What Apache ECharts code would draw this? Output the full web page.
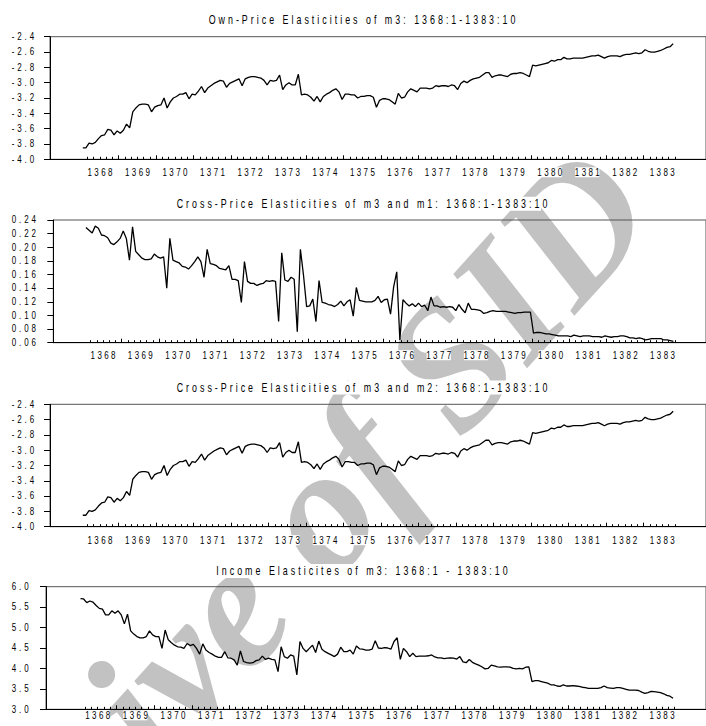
<!DOCTYPE html>
<html>
<head>
<meta charset="utf-8">
<script src="https://cdn.jsdelivr.net/npm/echarts@6/dist/echarts.min.js"></script>
<style>
html,body{margin:0;padding:0;background:#fff;}
#chart{width:706px;height:726px;}
</style>
</head>
<body>
<div id="chart"></div>
<script>
// ---------------- DATA (monthly, 1368:1 .. 1383:10, 190 months) ----------------
const yearLabels = ['1368','1369','1370','1371','1372','1373','1374','1375','1376','1377','1378','1379','1380','1381','1382','1383'];

const titles = [
  'Own-Price Elasticities of m3: 1368:1-1383:10',
  'Cross-Price Elasticities of m3 and m1: 1368:1-1383:10',
  'Cross-Price Elasticities of m3 and m2: 1368:1-1383:10',
  'Income Elasticites of m3: 1368:1 - 1383:10'
];

const watermarkText = 'Archive of SID';

const ownPrice = [
  -3.85,-3.85,-3.79,-3.80,-3.78,-3.73,-3.69,-3.68,-3.61,-3.62,
  -3.68,-3.63,-3.66,-3.62,-3.54,-3.59,-3.38,-3.33,-3.29,-3.28,
  -3.28,-3.29,-3.38,-3.32,-3.30,-3.29,-3.20,-3.33,-3.25,-3.20,
  -3.18,-3.15,-3.15,-3.13,-3.21,-3.15,-3.16,-3.11,-3.05,-3.13,
  -3.07,-3.04,-3.01,-2.99,-2.97,-2.98,-3.06,-3.01,-2.99,-2.97,
  -2.95,-3.04,-2.95,-2.93,-2.92,-2.92,-2.93,-2.94,-2.97,-3.03,
  -2.97,-2.98,-2.97,-2.90,-3.09,-3.03,-3.00,-3.03,-3.03,-2.89,
  -3.16,-3.15,-3.16,-3.19,-3.24,-3.18,-3.25,-3.18,-3.15,-3.13,
  -3.10,-3.08,-3.12,-3.22,-3.15,-3.15,-3.16,-3.16,-3.20,-3.18,
  -3.18,-3.17,-3.17,-3.19,-3.32,-3.23,-3.21,-3.21,-3.22,-3.25,
  -3.28,-3.14,-3.20,-3.19,-3.12,-3.08,-3.10,-3.12,-3.07,-3.07,
  -3.07,-3.08,-3.07,-3.04,-3.05,-3.04,-3.04,-3.05,-3.03,-3.04,
  -3.09,-3.01,-2.98,-3.00,-2.97,-2.95,-2.94,-2.93,-2.90,-2.87,
  -2.87,-2.93,-2.91,-2.90,-2.90,-2.91,-2.92,-2.89,-2.88,-2.88,
  -2.87,-2.88,-2.90,-2.92,-2.77,-2.78,-2.77,-2.76,-2.75,-2.74,
  -2.71,-2.72,-2.70,-2.70,-2.67,-2.69,-2.69,-2.68,-2.68,-2.68,
  -2.68,-2.67,-2.66,-2.65,-2.65,-2.64,-2.66,-2.68,-2.66,-2.65,
  -2.65,-2.65,-2.66,-2.64,-2.63,-2.63,-2.62,-2.61,-2.62,-2.61,
  -2.57,-2.59,-2.60,-2.60,-2.59,-2.58,-2.56,-2.54,-2.53,-2.49
];

const crossM1 = [
  0.229,0.225,0.221,0.231,0.228,0.218,0.217,0.214,0.206,0.204,
  0.208,0.213,0.224,0.213,0.181,0.230,0.194,0.189,0.184,0.182,
  0.182,0.183,0.190,0.186,0.184,0.186,0.140,0.213,0.181,0.179,
  0.177,0.172,0.171,0.168,0.173,0.179,0.186,0.179,0.156,0.197,
  0.176,0.175,0.173,0.169,0.168,0.167,0.173,0.153,0.153,0.151,
  0.119,0.179,0.150,0.147,0.147,0.144,0.146,0.147,0.151,0.150,
  0.151,0.150,0.091,0.192,0.152,0.150,0.156,0.153,0.076,0.197,
  0.159,0.113,0.114,0.124,0.091,0.151,0.119,0.118,0.116,0.115,
  0.113,0.116,0.121,0.114,0.120,0.123,0.099,0.141,0.122,0.121,
  0.120,0.120,0.120,0.122,0.128,0.119,0.123,0.124,0.102,0.142,
  0.164,0.064,0.123,0.118,0.114,0.117,0.113,0.118,0.113,0.115,
  0.107,0.127,0.114,0.114,0.112,0.113,0.112,0.113,0.112,0.107,
  0.116,0.109,0.104,0.118,0.109,0.109,0.108,0.107,0.103,0.104,
  0.106,0.107,0.106,0.106,0.106,0.106,0.105,0.104,0.103,0.104,
  0.104,0.105,0.105,0.105,0.074,0.075,0.075,0.074,0.073,0.073,
  0.072,0.071,0.070,0.070,0.070,0.070,0.069,0.071,0.070,0.069,
  0.070,0.070,0.070,0.069,0.069,0.069,0.068,0.070,0.069,0.068,
  0.069,0.069,0.070,0.070,0.069,0.067,0.067,0.066,0.067,0.066,
  0.064,0.065,0.066,0.066,0.066,0.066,0.064,0.064,0.063,0.062
];

const crossM2 = [
  -3.85,-3.85,-3.79,-3.80,-3.78,-3.73,-3.69,-3.68,-3.61,-3.62,
  -3.68,-3.63,-3.66,-3.62,-3.54,-3.59,-3.38,-3.33,-3.29,-3.28,
  -3.28,-3.29,-3.38,-3.32,-3.30,-3.29,-3.20,-3.33,-3.25,-3.20,
  -3.18,-3.15,-3.15,-3.13,-3.21,-3.15,-3.16,-3.11,-3.05,-3.13,
  -3.07,-3.04,-3.01,-2.99,-2.97,-2.98,-3.06,-3.01,-2.99,-2.97,
  -2.95,-3.04,-2.95,-2.93,-2.92,-2.92,-2.93,-2.94,-2.97,-3.03,
  -2.97,-2.98,-2.97,-2.90,-3.09,-3.03,-3.00,-3.03,-3.03,-2.89,
  -3.16,-3.15,-3.16,-3.19,-3.24,-3.18,-3.25,-3.18,-3.15,-3.13,
  -3.10,-3.08,-3.12,-3.22,-3.15,-3.15,-3.16,-3.16,-3.20,-3.18,
  -3.18,-3.17,-3.17,-3.19,-3.32,-3.23,-3.21,-3.21,-3.22,-3.25,
  -3.28,-3.14,-3.20,-3.19,-3.12,-3.08,-3.10,-3.12,-3.07,-3.07,
  -3.07,-3.08,-3.07,-3.04,-3.05,-3.04,-3.04,-3.05,-3.03,-3.04,
  -3.09,-3.01,-2.98,-3.00,-2.97,-2.95,-2.94,-2.93,-2.90,-2.87,
  -2.87,-2.93,-2.91,-2.90,-2.90,-2.91,-2.92,-2.89,-2.88,-2.88,
  -2.87,-2.88,-2.90,-2.92,-2.77,-2.78,-2.77,-2.76,-2.75,-2.74,
  -2.71,-2.72,-2.70,-2.70,-2.67,-2.69,-2.69,-2.68,-2.68,-2.68,
  -2.68,-2.67,-2.66,-2.65,-2.65,-2.64,-2.66,-2.68,-2.66,-2.65,
  -2.65,-2.65,-2.66,-2.64,-2.63,-2.63,-2.62,-2.61,-2.62,-2.61,
  -2.57,-2.59,-2.60,-2.60,-2.59,-2.58,-2.56,-2.54,-2.53,-2.49
];

const income = [
  5.71,5.70,5.61,5.65,5.62,5.54,5.47,5.45,5.31,5.31,
  5.41,5.35,5.41,5.31,5.09,5.33,4.92,4.84,4.78,4.75,
  4.75,4.78,4.92,4.82,4.78,4.78,4.49,4.94,4.70,4.63,
  4.57,4.53,4.52,4.49,4.61,4.56,4.59,4.49,4.35,4.60,
  4.45,4.39,4.35,4.30,4.27,4.27,4.41,4.26,4.25,4.21,
  4.08,4.43,4.17,4.14,4.13,4.14,4.19,4.21,4.30,4.22,
  4.25,4.22,4.21,3.92,4.53,4.29,4.25,4.33,4.30,3.84,
  4.66,4.49,4.41,4.49,4.57,4.39,4.67,4.47,4.41,4.37,
  4.33,4.29,4.35,4.52,4.41,4.41,4.45,4.35,4.55,4.48,
  4.47,4.45,4.45,4.47,4.68,4.50,4.49,4.51,4.50,4.47,
  4.66,4.75,4.22,4.49,4.41,4.29,4.37,4.29,4.30,4.30,
  4.30,4.31,4.33,4.28,4.26,4.26,4.24,4.25,4.26,4.25,
  4.23,4.29,4.16,4.14,4.22,4.15,4.11,4.08,4.04,3.99,
  4.00,4.08,4.06,4.04,4.03,4.04,4.04,4.03,4.00,3.99,
  4.00,3.99,4.03,4.04,3.68,3.70,3.70,3.68,3.66,3.64,
  3.60,3.60,3.57,3.56,3.60,3.57,3.57,3.58,3.57,3.56,
  3.54,3.53,3.51,3.51,3.51,3.51,3.53,3.57,3.53,3.52,
  3.51,3.53,3.53,3.51,3.49,3.47,3.47,3.47,3.46,3.42,
  3.39,3.41,3.44,3.43,3.42,3.41,3.38,3.34,3.32,3.27
];

// y-axis scales per panel
const yMin = [-4.0, 0.06, -4.0, 3.0];
const yMax = [-2.4, 0.24, -2.4, 6.0];
const yStep = [0.2, 0.02, 0.2, 0.5];
const yDecimals = [1, 2, 1, 1];

// ---------------- FONT / LETTER SPACING ----------------
const FAMILY = 'Liberation Sans';
const TITLE_SIZE = 12, LABEL_SIZE = 10;
const SX_TITLE = 0.74, SX_LABEL = 0.8;   // horizontal condensing of the glyphs
const mctx = document.createElement('canvas').getContext('2d');
function measure(font, s) { mctx.font = font; return mctx.measureText(s).width; }
const lsTitle = Math.max(0, (307 / SX_TITLE - measure(TITLE_SIZE + 'px "' + FAMILY + '"', titles[0])) / (titles[0].length - 1));
const lsYear  = Math.max(0, (25 / SX_LABEL - measure(LABEL_SIZE + 'px "' + FAMILY + '"', '1368')) / 3);
const lsY     = Math.max(0, (22.5 / SX_LABEL - measure(LABEL_SIZE + 'px "' + FAMILY + '"', '-2.4')) / 3);

// ---------------- LAYOUT ----------------
const panels = [
  { left: 50,   top: 36.7,  height: 122.6, xMin: -10.5, scale: 3.158,  titleY: 19.7,  labelMargin: 8 },
  { left: 53.3, top: 220.0, height: 122.7, xMin: -10.5, scale: 3.143,  titleY: 203.8, labelMargin: 7.5 },
  { left: 50,   top: 404.3, height: 122.4, xMin: -10.5, scale: 3.158,  titleY: 387.5, labelMargin: 8.5 },
  { left: 46,   top: 586.7, height: 122.6, xMin: -11,   scale: 3.1715, titleY: 570.9, labelMargin: 1 }
];
const X_MAX = 199.5;
const seriesValues = [ownPrice, crossM1, crossM2, income];

// month index ticks: year boundaries (major), every two months (minor), labels mid-year
const majorTicks = [], minorTicks = [], labelPos = [];
for (let k = 0; k < 15; k++) majorTicks.push(11.5 + 12 * k);
for (let v = 1.5; v <= 189.5; v += 2) if ((v - 11.5) % 12 !== 0) minorTicks.push(v);
for (let k = 0; k < yearLabels.length; k++) labelPos.push(5.5 + 12 * k);

const grid = [], xAxis = [], yAxis = [], series = [];
const graphic = [{
  type: 'text', x: 684, y: 238, rotation: 48 * Math.PI / 180, z: -10, silent: true,
  style: { text: watermarkText, fill: '#c2c2c2', font: 'italic bold 180px "Liberation Serif"',
           textAlign: 'right', textVerticalAlign: 'bottom' }
}];
panels.forEach((p, g) => {
  grid.push({
    left: p.left, top: p.top, height: p.height, width: (X_MAX - p.xMin) * p.scale,
    show: true, borderColor: '#555', borderWidth: 1, backgroundColor: 'transparent'
  });
  xAxis.push({
    type: 'value', gridIndex: g, position: 'bottom', min: p.xMin, max: X_MAX,
    axisLine: { show: true, onZero: false, lineStyle: { color: '#000', width: 1 } },
    axisTick: { show: true, inside: true, length: 4, customValues: majorTicks, lineStyle: { color: '#000' } },
    axisLabel: {
      show: true, customValues: labelPos, margin: p.labelMargin,
      fontFamily: FAMILY, fontSize: LABEL_SIZE, color: '#000',
      backgroundColor: '#fff', padding: [0, 1],
      formatter: v => yearLabels[Math.round((v - 5.5) / 12)]
    },
    splitLine: { show: false }
  });
  xAxis.push({
    type: 'value', gridIndex: g, position: 'bottom', min: p.xMin, max: X_MAX,
    axisLine: { show: false, onZero: false },
    axisTick: { show: true, inside: true, length: 2.5, customValues: minorTicks, lineStyle: { color: '#000' } },
    axisLabel: { show: false },
    splitLine: { show: false }
  });
  yAxis.push({
    type: 'value', gridIndex: g, min: yMin[g], max: yMax[g], interval: yStep[g],
    axisLine: { show: true, onZero: false, lineStyle: { color: '#000', width: 1 } },
    axisTick: { show: true, inside: false, length: 6, lineStyle: { color: '#000' } },
    axisLabel: {
      align: 'left', margin: p.left - 11.7, fontFamily: FAMILY, fontSize: LABEL_SIZE, color: '#000',
      formatter: v => v.toFixed(yDecimals[g])
    },
    splitLine: { show: false }
  });
  series.push({
    type: 'line', xAxisIndex: 2 * g, yAxisIndex: g, showSymbol: false, symbol: 'none',
    lineStyle: { color: '#000', width: 1.3 }, animation: false,
    data: seriesValues[g].map((v, i) => [i, v])
  });
  graphic.push({
    type: 'text', x: 362, y: p.titleY,
    style: { text: titles[g], fill: '#000', font: TITLE_SIZE + 'px "' + FAMILY + '"',
             textAlign: 'center', textVerticalAlign: 'middle',
             backgroundColor: '#fff', padding: [1, 34] }
  });
});

const chart = echarts.init(document.getElementById('chart'), null, { renderer: 'svg', width: 706, height: 726 });
chart.setOption({
  animation: false,
  backgroundColor: '#fff',
  grid, xAxis, yAxis, series, graphic
});

// condense glyphs and open up letter spacing (typewriter-like look of the original)
function styleTexts() {
  document.querySelectorAll('#chart text').forEach(t => {
    if (t.__done && t.getAttribute('transform') === t.__done) return;
    const fs = parseFloat(getComputedStyle(t).fontSize);
    if (!(fs > 0) || fs > 40) return;
    const txt = t.textContent.trim();
    let ls, sx;
    if (fs >= 11.5) { ls = lsTitle; sx = SX_TITLE; }
    else if (/^\d{4}$/.test(txt)) { ls = lsYear; sx = SX_LABEL; }
    else { ls = lsY; sx = SX_LABEL; }
    const anchor = t.getAttribute('text-anchor') || getComputedStyle(t).textAnchor || 'start';
    const ax = parseFloat(t.getAttribute('x')) || 0;
    const shift = anchor === 'middle' ? sx * ls / 2 : (anchor === 'end' ? sx * ls : 0);
    t.style.letterSpacing = ls.toFixed(2) + 'px';
    const orig = t.getAttribute('transform') || '';
    const tf = (orig + ' translate(' + (ax + shift).toFixed(2) + ' 0) scale(' + sx + ' 1) translate(' + (-ax).toFixed(2) + ' 0)').trim();
    t.setAttribute('transform', tf);
    t.__done = t.getAttribute('transform');
  });
}
chart.on('finished', styleTexts);
styleTexts();
setTimeout(styleTexts, 30);
setTimeout(styleTexts, 200);
</script>
</body>
</html>
